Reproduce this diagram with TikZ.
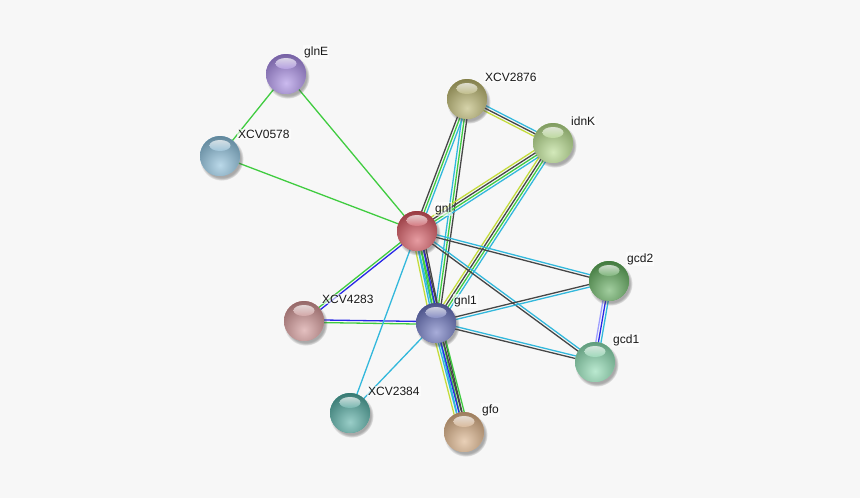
\documentclass[tikz,border=0pt]{standalone}
\usepackage{fontspec}
\setmainfont{Liberation Sans}
\usetikzlibrary{calc,shadows,backgrounds}
\definecolor{bgc}{RGB}{247,247,247}
\definecolor{eG}{RGB}{64,204,64}
\definecolor{eK}{RGB}{70,70,70}
\definecolor{eC}{RGB}{50,184,220}
\definecolor{eB}{RGB}{40,40,230}
\definecolor{eY}{RGB}{196,220,60}
\definecolor{eL}{RGB}{160,160,255}
\definecolor{cglnE}{RGB}{160,130,225}
\definecolor{cX0578}{RGB}{130,185,215}
\definecolor{cX2876}{RGB}{180,175,100}
\definecolor{cidnK}{RGB}{175,215,130}
\definecolor{cgnl}{RGB}{210,75,85}
\definecolor{cgcd2}{RGB}{85,165,80}
\definecolor{cX4283}{RGB}{205,140,140}
\definecolor{cgnl1}{RGB}{95,105,185}
\definecolor{cgcd1}{RGB}{130,215,170}
\definecolor{cX2384}{RGB}{70,165,155}
\definecolor{cgfo}{RGB}{215,170,125}
\tikzset{
  edge/.style={line width=1.3pt},
  ball/.style={circle, minimum size=40pt, inner sep=0pt, fill=#1,
    circular drop shadow={shadow xshift=1.5pt, shadow yshift=-2.5pt, opacity=0.45, fill=black!70},
    path picture={
      \shade[inner color=#1!55!white, outer color=#1!70!black]
        ($(path picture bounding box.center)+(0,9)$) circle (31pt);
      \shade[top color=white, bottom color=#1!70!white, opacity=0.7]
        ($(path picture bounding box.center)+(0,-10.5)$) ellipse (10.5pt and 5.5pt);
    }},
  lbl/.style={anchor=west, inner sep=1pt, fill=white, fill opacity=0.6, text opacity=1,
    font=\fontsize{12}{14}\selectfont, text=black!90}
}
\newcommand\bund[4]{%
  \foreach \cc [count=\i] in {#4} {%
    \pgfmathsetmacro\off{(\i-(#3+1)/2)*2.6}%
    \draw[edge,\cc] ($(#1)!\off pt!90:(#2)$) -- ($(#2)!\off pt!-90:(#1)$);
  }}
\begin{document}
\begin{tikzpicture}[x=1pt,y=-1pt]
\useasboundingbox (0,0) rectangle (860,498);
% nodes
\node[ball=cglnE] (glnE) at (286,74) {};
\node[ball=cX0578] (XCV0578) at (220,156) {};
\node[ball=cX2876] (XCV2876) at (467,99) {};
\node[ball=cidnK] (idnK) at (553,143) {};
\node[ball=cgcd2] (gcd2) at (609,281) {};
\node[ball=cX4283] (XCV4283) at (304,321) {};
\node[ball=cgcd1] (gcd1) at (595,362) {};
\node[ball=cX2384] (XCV2384) at (350,413) {};
\node[ball=cgfo] (gfo) at (464,432) {};
\node[ball=cgnl1] (gnl1) at (436,323) {};
\node[ball=cgnl] (gnl) at (417,231) {};
% labels
\node[lbl] (l-glnE) at ($(glnE)+(17,-22)$) {glnE};
\node[lbl] (l-XCV0578) at ($(XCV0578)+(17,-22)$) {XCV0578};
\node[lbl] (l-XCV2876) at ($(XCV2876)+(17,-22)$) {XCV2876};
\node[lbl] (l-idnK) at ($(idnK)+(17,-22)$) {idnK};
\node[lbl] (l-gnl) at ($(gnl)+(17,-22)$) {gnl};
\node[lbl] (l-gcd2) at ($(gcd2)+(17,-22)$) {gcd2};
\node[lbl] (l-XCV4283) at ($(XCV4283)+(17,-22)$) {XCV4283};
\node[lbl] (l-gnl1) at ($(gnl1)+(17,-22)$) {gnl1};
\node[lbl] (l-gcd1) at ($(gcd1)+(17,-22)$) {gcd1};
\node[lbl] (l-XCV2384) at ($(XCV2384)+(17,-22)$) {XCV2384};
\node[lbl] (l-gfo) at ($(gfo)+(17,-22)$) {gfo};
\begin{scope}[on background layer]
\fill[bgc] (0,0) rectangle (860,498);
\bund{glnE}{XCV0578}{1}{eG}
\bund{glnE}{gnl}{1}{eG}
\bund{XCV0578}{gnl}{1}{eG}
\bund{XCV2876}{idnK}{3}{eY,eK,eC}
\bund{XCV2876}{gnl}{3}{eK,eG,eC}
\bund{XCV2876}{gnl1}{3}{eC,eG,eK}
\bund{idnK}{gnl}{4}{eY,eK,eG,eC}
\bund{idnK}{gnl1}{4}{eY,eK,eG,eC}
\bund{gnl}{gfo}{3}{eC,eG,eK}
\bund{gnl1}{gfo}{5}{eY,eC,eB,eK,eG}
\bund{gnl}{gnl1}{5}{eY,eC,eG,eB,eK}
\bund{gnl}{gcd2}{2}{eK,eC}
\bund{gnl}{gcd1}{2}{eK,eC}
\bund{gnl1}{gcd2}{2}{eC,eK}
\bund{gnl1}{gcd1}{2}{eK,eC}
\bund{gcd2}{gcd1}{3}{eL,eB,eC}
\bund{gnl}{XCV4283}{2}{eG,eB}
\bund{gnl1}{XCV4283}{2}{eB,eG}
\bund{gnl}{XCV2384}{1}{eC}
\bund{gnl1}{XCV2384}{1}{eC}
\end{scope}
\end{tikzpicture}
\end{document}
